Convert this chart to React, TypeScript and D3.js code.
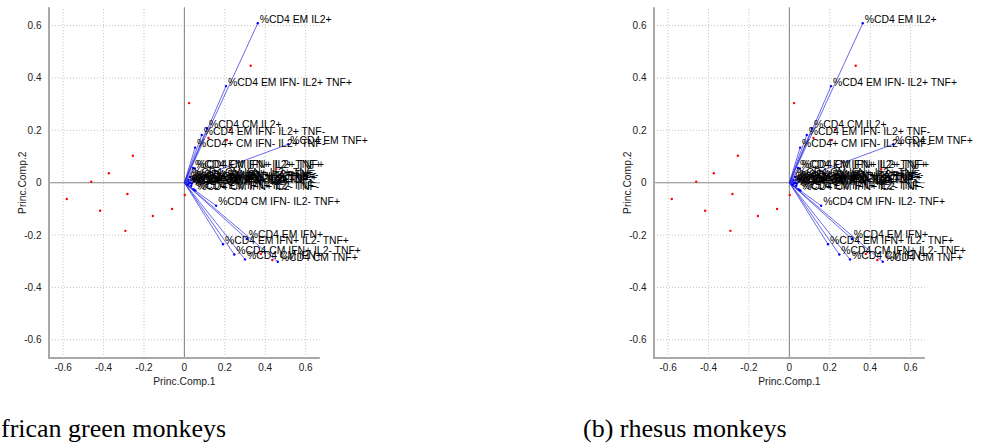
import React from "react";
import * as d3 from "d3";

const tickValues = [-0.6, -0.4, -0.2, 0, 0.2, 0.4, 0.6];
const tickLabels = ["-0.6", "-0.4", "-0.2", "0", "0.2", "0.4", "0.6"];

// observation scores (red points)
const scoreX = [0.328, 0.023, -0.255, -0.374, -0.461, -0.582, -0.282, -0.417, -0.156, -0.061, 0.002, -0.292, 0.226, 0.119, 0.21, 0.454, 0.378, 0.435];
const scoreY = [0.447, 0.304, 0.103, 0.036, 0.004, -0.062, -0.043, -0.107, -0.127, -0.1, -0.047, -0.184, 0.202, 0.171, 0.163, 0.052, -0.272, -0.295];

// variable loadings (blue vectors)
const loadingNames = [
  "%CD4 EM IL2+",
  "%CD4 EM IFN- IL2+ TNF+",
  "%CD4 CM IL2+",
  "%CD4 EM IFN- IL2+ TNF-",
  "%CD4+ CM IFN- IL2+ TNF-",
  "%CD4 EM TNF+",
  "%CD4 EM IFN+ IL2+ TNF+",
  "%CD4 CM IFN+ IL2+ TNF+",
  "%CD4 CM IFN+ IL2+ TNF-",
  "%CD4 EM IFN+ IL2+ TNF-",
  "%CD4 CM IFN- IL2+ TNF+",
  "%CD4 EM IFN- IL2- TNF+",
  "%CD4 CM IFN- IL2- TNF-",
  "%CD4 EM IFN- IL2- TNF-",
  "%CD4 EM IFN+ IL2+",
  "%CD4 CM IFN+ IL2+",
  "%CD4 EM IFN+ TNF+",
  "%CD4 CM IFN+ TNF+",
  "%CD4 EM IFN+ IL2- TNF-",
  "%CD4 CM IFN+ IL2- TNF-",
  "%CD4 CM IFN- IL2- TNF+",
  "%CD4 EM IFN+",
  "%CD4 EM IFN+ IL2- TNF+",
  "%CD4 CM IFN+ IL2- TNF+",
  "%CD4 CM IFN+",
  "%CD4 CM TNF+",
];
const loadingX = [0.363, 0.206, 0.112, 0.086, 0.053, 0.514, 0.043, 0.052, 0.028, 0.04, 0.02, 0.046, 0.03, 0.036, 0.016, 0.034, 0.05, 0.024, 0.046, 0.054, 0.157, 0.309, 0.191, 0.247, 0.3, 0.462];
const loadingY = [0.609, 0.369, 0.208, 0.182, 0.134, 0.147, 0.056, 0.054, 0.022, 0.016, 0.01, 0.004, 0.0, -0.004, -0.008, -0.012, 0.012, -0.002, -0.026, -0.03, -0.088, -0.215, -0.235, -0.274, -0.293, -0.302];

const captions = ["frican green monkeys", "(b) rhesus monkeys"];
const xAxisLabel = "Princ.Comp.1";
const yAxisLabel = "Princ.Comp.2";

const SANS = "'Liberation Sans', Arial, Helvetica, sans-serif";
const SERIF = "'Liberation Serif', 'Times New Roman', serif";

function Panel({ dx }: { dx: number }) {
  const x = d3.scaleLinear().domain([-0.67, 0.67]).range([49 + dx, 319.8 + dx]);
  const y = d3.scaleLinear().domain([-0.67, 0.67]).range([358.1, 7.3]);
  const [x0, x1] = x.range();
  const [y0, y1] = y.range();
  return (
    <g>
      {/* grid */}
      {tickValues.map((t, i) => (
        <line key={"gx" + i} x1={x(t)} x2={x(t)} y1={y0} y2={y1} stroke="#b4b4b4" strokeWidth={0.8} strokeDasharray="1,2" />
      ))}
      {tickValues.map((t, i) => (
        <line key={"gy" + i} x1={x0} x2={x1} y1={y(t)} y2={y(t)} stroke="#b4b4b4" strokeWidth={0.8} strokeDasharray="1,2" />
      ))}
      {/* zero lines */}
      <line x1={x(0)} x2={x(0)} y1={y0} y2={y1} stroke="#8a8a8a" strokeWidth={1.1} />
      <line x1={x0} x2={x1} y1={y(0)} y2={y(0)} stroke="#8a8a8a" strokeWidth={1.1} />
      {/* axes */}
      <line x1={x0} x2={x0} y1={y0 + 1} y2={y1} stroke="#a8a8a8" strokeWidth={2} />
      <line x1={x0} x2={x1} y1={y0} y2={y0} stroke="#a8a8a8" strokeWidth={2} />
      {/* tick labels */}
      {tickValues.map((t, i) => (
        <text key={"tx" + i} x={x(t)} y={371} textAnchor="middle" fontFamily={SANS} fontSize={10} fill="#222">
          {tickLabels[i]}
        </text>
      ))}
      {tickValues.map((t, i) => (
        <text key={"ty" + i} x={x0 - 7.5} y={y(t) + 3.5} textAnchor="end" fontFamily={SANS} fontSize={10} fill="#222">
          {tickLabels[i]}
        </text>
      ))}
      <text x={x(0)} y={385} textAnchor="middle" fontFamily={SANS} fontSize={10.3} fill="#222">
        {xAxisLabel}
      </text>
      <text transform={`translate(${x0 - 23},${y(0)}) rotate(-90)`} textAnchor="middle" fontFamily={SANS} fontSize={10.3} fill="#222">
        {yAxisLabel}
      </text>
      {/* vectors */}
      {loadingX.map((lx, i) => (
        <line key={"v" + i} x1={x(0)} y1={y(0)} x2={x(lx)} y2={y(loadingY[i])} stroke="#2a2ae0" strokeWidth={0.7} />
      ))}
      {loadingX.map((lx, i) => (
        <circle key={"vd" + i} cx={x(lx)} cy={y(loadingY[i])} r={1.2} fill="#0000ff" />
      ))}
      {/* scores */}
      {scoreX.map((sx, i) => (
        <circle key={"s" + i} cx={x(sx)} cy={y(scoreY[i])} r={1.2} fill="#ff0000" />
      ))}
      {/* labels */}
      {loadingX.map((lx, i) => (
        <text key={"l" + i} x={x(lx) + 2} y={y(loadingY[i]) - 0.5} fontFamily={SANS} fontSize={10.4} fill="#000">
          {loadingNames[i]}
        </text>
      ))}
    </g>
  );
}

export default function App() {
  return (
    <svg width={985} height={447} style={{ position: "absolute", left: 0, top: 0, background: "#fff" }}>
      <rect width={985} height={447} fill="#fff" />
      <Panel dx={0} />
      <Panel dx={605} />
      <text x={1} y={437} fontFamily={SERIF} fontSize={26} fill="#000">{captions[0]}</text>
      <text x={583} y={437} fontFamily={SERIF} fontSize={26} fill="#000">{captions[1]}</text>
    </svg>
  );
}
